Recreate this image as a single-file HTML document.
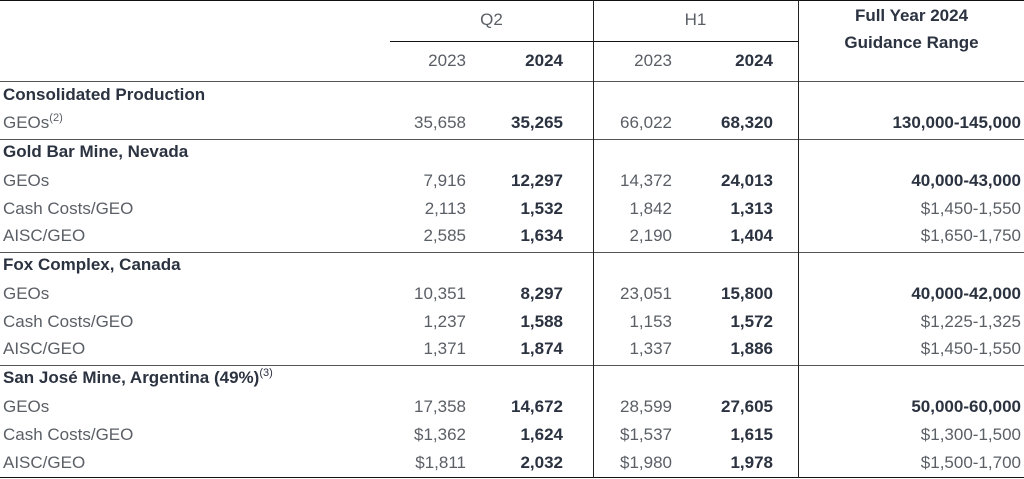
<!DOCTYPE html>
<html><head><meta charset="utf-8"><style>
body{margin:0;width:1024px;height:479px;background:#fff;position:relative;overflow:hidden;font-family:"Liberation Sans",sans-serif;font-size:17px;color:#5a5f66}
.t{position:absolute;white-space:nowrap;line-height:18px}
.b{font-weight:bold;color:#2b3240}
.r{text-align:right}
.h{position:absolute;height:1px;background:#333}
.v{position:absolute;width:1px;background:#222}
sup{font-size:11px;line-height:0;vertical-align:7px;font-weight:normal}
</style></head><body>
<div class="h" style="left:0;top:0;width:1024px;background:#111"></div>
<div class="h" style="left:390px;top:41px;width:408px;background:#111"></div>
<div class="h" style="left:0;top:81px;width:1024px;background:#555"></div>
<div class="h" style="left:0;top:139px;width:1024px;background:#555"></div>
<div class="h" style="left:0;top:252px;width:1024px;background:#555"></div>
<div class="h" style="left:0;top:365px;width:1024px;background:#555"></div>
<div class="h" style="left:0;top:477px;width:1024px;background:#111"></div>
<div class="v" style="left:593px;top:0;height:478px"></div>
<div class="v" style="left:798px;top:0;height:478px"></div>

<div class="t" style="left:390px;width:203px;text-align:center;top:11px">Q2</div>
<div class="t" style="left:593px;width:205px;text-align:center;top:11px">H1</div>
<div class="t b" style="left:799px;width:225px;text-align:center;top:2px;line-height:27px">Full Year 2024<br>Guidance Range</div>

<script>
const rows=[
 ["Consolidated Production","","","","","",1],
 ["GEOs<sup>(2)</sup>","35,658","35,265","66,022","68,320","130,000-145,000",0,1],
 ["Gold Bar Mine, Nevada","","","","","",1],
 ["GEOs","7,916","12,297","14,372","24,013","40,000-43,000",0,1],
 ["Cash Costs/GEO","2,113","1,532","1,842","1,313","$1,450-1,550",0,0],
 ["AISC/GEO","2,585","1,634","2,190","1,404","$1,650-1,750",0,0],
 ["Fox Complex, Canada","","","","","",1],
 ["GEOs","10,351","8,297","23,051","15,800","40,000-42,000",0,1],
 ["Cash Costs/GEO","1,237","1,588","1,153","1,572","$1,225-1,325",0,0],
 ["AISC/GEO","1,371","1,874","1,337","1,886","$1,450-1,550",0,0],
 ["San José Mine, Argentina (49%)<sup>(3)</sup>","","","","","",1],
 ["GEOs","17,358","14,672","28,599","27,605","50,000-60,000",0,1],
 ["Cash Costs/GEO","$1,362","1,624","$1,537","1,615","$1,300-1,500",0,0],
 ["AISC/GEO","$1,811","2,032","$1,980","1,978","$1,500-1,700",0,0]
];
const ys=[95,123,152,181,209,236,265,294,322,349,378,407,435,463];
const rights=[466,563,672,773,1021];
const c=document.body;
function add(html,cls,style,name){const d=document.createElement('div');d.className='t '+cls;d.innerHTML=html;d.style.cssText=style;


c.appendChild(d);}
[["2023",0],["2024",1],["2023",2],["2024",3]].forEach(([y,i])=>add(y,'r'+(i%2?' b':''),`right:${1024-rights[i]}px;top:52px`,'year-header'));
rows.forEach((r,i)=>{const y=ys[i]-9;
 add(r[0],r[6]?'b':'',`left:3px;top:${y}px`,r[6]?'section-title':'row-label');
 for(let k=1;k<=5;k++){if(!r[k])continue;const bold=(k==2||k==4||(k==5&&r[7]));
  add(r[k],'r'+(bold?' b':''),`right:${1024-rights[k-1]}px;top:${y}px`,'cell-value');}
});
</script>
</body></html>
